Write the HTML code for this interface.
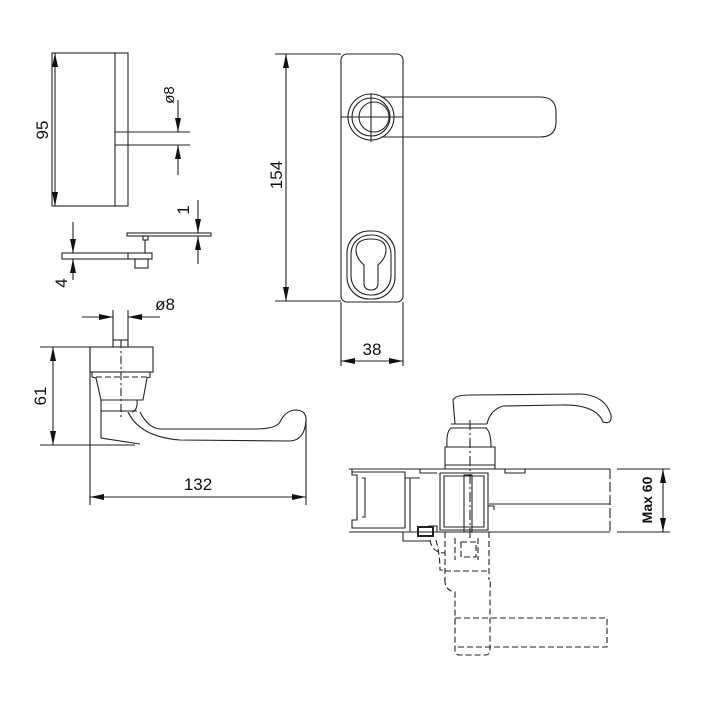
<!DOCTYPE html>
<html><head><meta charset="utf-8"><style>
html,body{margin:0;padding:0;background:#fff;}
svg{display:block;}
text{font-family:"Liberation Sans",sans-serif;fill:#111;}
</style></head><body>
<svg width="720" height="704" viewBox="0 0 720 704" xmlns="http://www.w3.org/2000/svg">
<defs>
<marker id="a" viewBox="0 0 14 6" refX="14" refY="3" markerWidth="14" markerHeight="6" orient="auto-start-reverse" markerUnits="userSpaceOnUse"><path d="M0,0L14,3L0,6z" fill="#111"/></marker>
</defs>
<g fill="none" stroke="#222" stroke-width="1.1">
<rect x="52" y="53" width="76" height="153"/>
<line x1="115" y1="53" x2="115" y2="206"/>
<line x1="115" y1="132" x2="190" y2="132"/>
<line x1="115" y1="145" x2="190" y2="145"/>
<line x1="55" y1="53" x2="55" y2="206" marker-start="url(#a)" marker-end="url(#a)"/>
<line x1="178" y1="100" x2="178" y2="132" marker-end="url(#a)"/>
<line x1="178" y1="175" x2="178" y2="145" marker-end="url(#a)"/>
<rect x="127" y="233" width="84" height="3"/>
<rect x="143" y="236" width="5" height="4"/>
<line x1="145" y1="240" x2="145" y2="253"/>
<rect x="62" y="253" width="90" height="6"/>
<line x1="128" y1="253" x2="128" y2="259"/>
<rect x="135" y="259" width="13" height="9"/>
<line x1="198" y1="200" x2="198" y2="233" marker-end="url(#a)"/>
<line x1="198" y1="264" x2="198" y2="236" marker-end="url(#a)"/>
<line x1="73" y1="222" x2="73" y2="253" marker-end="url(#a)"/>
<line x1="73" y1="280" x2="73" y2="259" marker-end="url(#a)"/>
<line x1="82" y1="317" x2="113" y2="317" marker-end="url(#a)"/>
<line x1="160" y1="317" x2="128" y2="317" marker-end="url(#a)"/>
<line x1="113" y1="310" x2="113" y2="347"/>
<line x1="128" y1="310" x2="128" y2="347"/>
<line x1="113" y1="340" x2="128" y2="340"/>
<rect x="90" y="347" width="63" height="25"/>
<path d="M92,372 L150,372 L150,377 L147,378 L143,400 L101,400 L96,378 L92,377 Z"/>
<path d="M96,377 L147,377" stroke-dasharray="6,3"/>
<path d="M101,400 L101,438 L140,444 M101,411 L137,411 M137,400 Q138,410 132,412"/>
<path d="M128,412 Q140,437 180,440 L290,441 Q305,440 306,420 L306,418 Q305,410 295,410 Q285,411 280,422 Q276,429 255,429 L160,429 Q148,428 140,412"/>
<line x1="121" y1="340" x2="121" y2="420" stroke-dasharray="8,3,2,3"/>
<line x1="40" y1="445" x2="135" y2="445"/>
<line x1="40" y1="347" x2="90" y2="347"/>
<line x1="53" y1="347" x2="53" y2="445" marker-start="url(#a)" marker-end="url(#a)"/>
<line x1="90" y1="347" x2="90" y2="505"/>
<line x1="306" y1="420" x2="306" y2="505"/>
<line x1="90" y1="497" x2="306" y2="497" marker-start="url(#a)" marker-end="url(#a)"/>
<rect x="341" y="54" width="62" height="248" rx="6"/>
<line x1="275" y1="54" x2="341" y2="54"/>
<line x1="275" y1="301" x2="341" y2="301"/>
<line x1="286" y1="54" x2="286" y2="301" marker-start="url(#a)" marker-end="url(#a)"/>
<circle cx="371" cy="117" r="23"/>
<circle cx="371" cy="117" r="19"/>
<circle cx="374" cy="117" r="15"/>
<path d="M381,97 L540,97 Q556,97 556,112 L556,122 Q556,137 540,137 L381,137"/>
<line x1="341" y1="117" x2="403" y2="117"/>
<line x1="371" y1="94" x2="371" y2="142"/>
<rect x="347" y="231" width="48" height="68" rx="22"/>
<rect x="351" y="235" width="40" height="60" rx="19"/>
<path d="M364,283 L364,265 Q356,258 356,250 Q356,239 371,239 Q386,239 386,250 Q386,258 378,265 L378,283 Q378,290 371,290 Q364,290 364,283 Z"/>
<line x1="341" y1="302" x2="341" y2="366"/>
<line x1="403" y1="302" x2="403" y2="366"/>
<line x1="341" y1="361" x2="403" y2="361" marker-start="url(#a)" marker-end="url(#a)"/>
<path d="M349,469 L610,469 M349,532 L610,532"/>
<line x1="610" y1="469" x2="610" y2="532" stroke-dasharray="10,3"/>
<line x1="489" y1="504" x2="610" y2="504"/>
<path d="M352,469 L352,475 L357,475 L357,520 L352,520 L352,528 L405,528 L405,472 L352,472"/>
<path d="M362,478 L365,478 L365,517 L362,517"/>
<path d="M405,478 L420,478 M410,478 L410,532"/>
<path d="M440,473 L440,530 L488,530 L488,473 L440,473 M444,476 L484,476 L484,527 L444,527 Z"/>
<path d="M420,469 L420,473 L437,473 M505,469 L505,473 L525,473 L525,469"/>
<path d="M428,526 L437,526 L437,532 M488,506 L494,506 L494,510"/>
<rect x="464" y="475" width="8" height="57"/>
<rect x="418" y="527" width="15" height="9" stroke-width="2"/>
<path d="M403,532 L403,541 L430,541"/>
<path d="M445,447 L495,447 L495,465 L445,465 Z M445,447 L445,469 M495,447 L495,469"/>
<path d="M447,447 Q446,432 451,428 L486,428 Q491,432 491,447"/>
<path d="M451,424 L487,424 M451,428 L487,428"/>
<path d="M455,424 L453,400 Q455,395 470,395 L580,394 Q605,395 611,415 Q612,425 603,422 Q596,404 560,405 L503,406 Q490,410 487,424"/>
<line x1="470" y1="420" x2="470" y2="540" stroke-dasharray="10,3,2,3"/>
<g stroke-dasharray="6,3">
<path d="M445,532 L445,580 M489,532 L489,580 M455,538 L455,560 M478,538 L478,560"/>
<rect x="461" y="542" width="15" height="15"/>
<path d="M445,571 L489,571 M445,579 Q444,590 455,592 L455,650 Q455,655 460,655 L485,655 Q490,655 490,650 L490,590 Q491,580 489,579"/>
<path d="M455,618 L607,618 L607,647 L455,647"/>
<path d="M436,540 Q440,555 440,570 L445,570 M430,540 Q432,553 445,553"/>
</g>
<line x1="617" y1="469" x2="670" y2="469"/>
<line x1="617" y1="532" x2="670" y2="532"/>
<line x1="663" y1="469" x2="663" y2="532" marker-start="url(#a)" marker-end="url(#a)"/>
</g>
<g font-size="17">
<text transform="translate(48,130) rotate(-90)" text-anchor="middle">95</text>
<text transform="translate(174,95) rotate(-90)" text-anchor="middle" font-size="15">ø8</text>
<text transform="translate(189,210) rotate(-90)" text-anchor="middle">1</text>
<text transform="translate(67,283) rotate(-90)" text-anchor="middle">4</text>
<text x="165" y="310" text-anchor="middle">ø8</text>
<text transform="translate(46,396) rotate(-90)" text-anchor="middle">61</text>
<text x="198" y="490" text-anchor="middle">132</text>
<text transform="translate(282,175) rotate(-90)" text-anchor="middle">154</text>
<text x="372" y="355" text-anchor="middle">38</text>
<text transform="translate(652,500) rotate(-90)" text-anchor="middle" font-size="14" font-weight="bold">Max 60</text>
</g>
</svg>
</body></html>
